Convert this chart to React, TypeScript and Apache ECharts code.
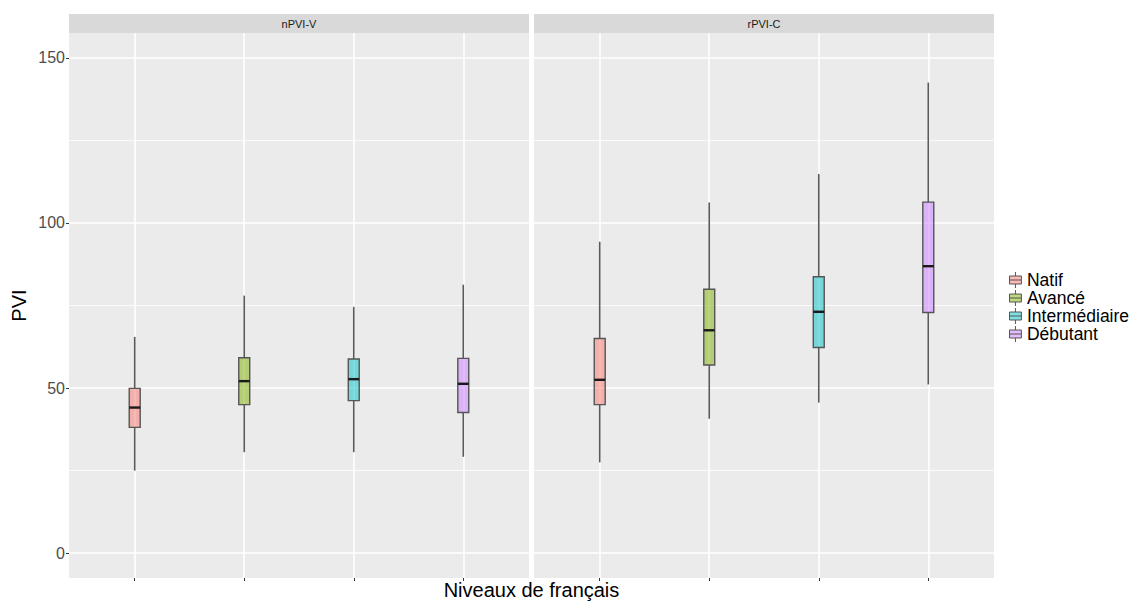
import React, { useEffect, useRef } from "react";
import * as echarts from "echarts";

const levels = ["Natif", "Avancé", "Intermédiaire", "Débutant"];
const facets = ["nPVI-V", "rPVI-C"];
const levelColors = [
  "rgba(248,118,109,0.5)",
  "rgba(124,174,0,0.5)",
  "rgba(0,191,196,0.5)",
  "rgba(199,124,255,0.5)",
];
// each row: [lower whisker, Q1, median, Q3, upper whisker]
const nPVIV = [
  [25.0, 38.1, 44.1, 49.9, 65.5],
  [30.6, 45.0, 52.1, 59.2, 78.0],
  [30.6, 46.2, 52.7, 58.8, 74.6],
  [29.2, 42.6, 51.3, 59.0, 81.3],
];
const rPVIC = [
  [27.5, 45.0, 52.5, 65.0, 94.3],
  [40.7, 57.0, 67.5, 79.9, 106.2],
  [45.6, 62.3, 73.1, 83.7, 114.8],
  [51.1, 72.9, 86.9, 106.3, 142.5],
];
const facetData = [nPVIV, rPVIC];
const yMajorTicks = [0, 50, 100, 150];
const yMinorTicks = [25, 75, 125];
const xTicks = [1, 2, 3, 4];

const Y_MIN = -7.5;
const Y_MAX = 157.5;
const X_MIN = 0.4;
const X_MAX = 4.6;
const BOX_WIDTH = 0.1;
const FONT = "'Liberation Sans', Arial, Helvetica, sans-serif";

const GRID_TOP = 33;
const GRID_H = 545;
const GRID_W = 460;
const GRID_LEFTS = [69, 534];

const LEGEND_ICON =
  "path://M6,0L6,3.5M0.8,3.5L11.2,3.5L11.2,10.5L0.8,10.5ZM0.8,7L11.2,7M6,10.5L6,14";

export default function App() {
  const ref = useRef<HTMLDivElement>(null);
  useEffect(() => {
    if (!ref.current) return;
    const chart = echarts.init(ref.current, undefined, { renderer: "svg" });

    const grids = GRID_LEFTS.map((left) => ({
      left,
      top: GRID_TOP,
      width: GRID_W,
      height: GRID_H,
      show: true,
      backgroundColor: "#EBEBEB",
      borderWidth: 0,
      containLabel: false,
    }));

    const xAxes = GRID_LEFTS.map((_, i) => ({
      type: "value",
      gridIndex: i,
      min: X_MIN,
      max: X_MAX,
      position: "bottom",
      axisLine: { show: false, onZero: false },
      axisTick: {
        show: true,
        customValues: xTicks,
        length: 3,
        lineStyle: { color: "#333333", width: 1 },
      },
      axisLabel: { show: false, customValues: xTicks },
      splitLine: { show: true, lineStyle: { color: "#FFFFFF", width: 1.6 } },
    }));

    const yAxes: any[] = [];
    GRID_LEFTS.forEach((_, i) => {
      yAxes.push({
        type: "value",
        gridIndex: i,
        min: Y_MIN,
        max: Y_MAX,
        name: i === 0 ? "PVI" : "",
        nameLocation: "middle",
        nameGap: 40,
        nameRotate: 90,
        nameTextStyle: { fontSize: 20, color: "#000000", fontFamily: FONT },
        axisLine: { show: false, onZero: false },
        axisTick: {
          show: i === 0,
          customValues: yMajorTicks,
          length: 3,
          lineStyle: { color: "#333333", width: 1 },
        },
        axisLabel: {
          show: i === 0,
          customValues: yMajorTicks,
          margin: 4,
          fontSize: 16,
          color: "#4D4D4D",
          fontFamily: FONT,
        },
        splitLine: { show: true, lineStyle: { color: "#FFFFFF", width: 1.6 } },
      });
      yAxes.push({
        type: "value",
        gridIndex: i,
        min: Y_MIN,
        max: Y_MAX,
        axisLine: { show: false, onZero: false },
        axisTick: { show: false, customValues: yMinorTicks },
        axisLabel: { show: false, customValues: yMinorTicks },
        splitLine: { show: true, lineStyle: { color: "#FFFFFF", width: 0.8 } },
      });
    });

    const renderItem = (params: any, api: any) => {
      const x = api.value(0);
      const lo = api.coord([x, api.value(1)]);
      const q1 = api.coord([x, api.value(2)]);
      const md = api.coord([x, api.value(3)]);
      const q3 = api.coord([x, api.value(4)]);
      const hi = api.coord([x, api.value(5)]);
      const w = api.size([BOX_WIDTH, 0])[0];
      const color = api.visual("color");
      const lineStyle = { stroke: "#5A5A5A", lineWidth: 1.6 };
      return {
        type: "group",
        children: [
          { type: "line", shape: { x1: lo[0], y1: lo[1], x2: q1[0], y2: q1[1] }, style: lineStyle },
          { type: "line", shape: { x1: q3[0], y1: q3[1], x2: hi[0], y2: hi[1] }, style: lineStyle },
          {
            type: "rect",
            shape: { x: q3[0] - w / 2, y: q3[1], width: w, height: q1[1] - q3[1] },
            style: { fill: color, stroke: "#555555", lineWidth: 1.4 },
          },
          {
            type: "line",
            shape: { x1: md[0] - w / 2, y1: md[1], x2: md[0] + w / 2, y2: md[1] },
            style: { stroke: "#1A1A1A", lineWidth: 2.4 },
          },
        ],
      };
    };

    const series: any[] = [];
    facetData.forEach((rows, f) => {
      rows.forEach((stats, l) => {
        series.push({
          type: "custom",
          name: levels[l],
          xAxisIndex: f,
          yAxisIndex: f * 2,
          itemStyle: { color: levelColors[l] },
          encode: { x: 0, y: [1, 2, 3, 4, 5] },
          data: [[xTicks[l], ...stats]],
          renderItem,
        });
      });
    });

    const graphics: any[] = [];
    GRID_LEFTS.forEach((left, i) => {
      graphics.push({
        type: "rect",
        shape: { x: left, y: 14, width: GRID_W, height: GRID_TOP - 14 },
        style: { fill: "#D9D9D9" },
        silent: true,
      });
      graphics.push({
        type: "text",
        x: left + GRID_W / 2,
        y: (14 + GRID_TOP) / 2,
        style: {
          text: facets[i],
          fontSize: 11,
          fill: "#1A1A1A",
          fontFamily: FONT,
          align: "center",
          verticalAlign: "middle",
        },
        silent: true,
      });
    });
    graphics.push({
      type: "text",
      x: (GRID_LEFTS[0] + GRID_LEFTS[1] + GRID_W) / 2,
      y: 590,
      style: {
        text: "Niveaux de français",
        fontSize: 20,
        fill: "#000000",
        fontFamily: FONT,
        align: "center",
        verticalAlign: "middle",
      },
      silent: true,
    });

    chart.setOption({
      animation: false,
      backgroundColor: "#FFFFFF",
      grid: grids,
      xAxis: xAxes,
      yAxis: yAxes,
      legend: {
        orient: "vertical",
        left: 1009,
        top: 271,
        padding: 0,
        itemWidth: 13,
        itemHeight: 16,
        itemGap: 0,
        icon: LEGEND_ICON,
        data: levels,
        itemStyle: { borderColor: "#555555", borderWidth: 1 },
        textStyle: {
          fontSize: 17.5,
          lineHeight: 17.5,
          color: "#000000",
          fontFamily: FONT,
        },
        selectedMode: false,
      },
      graphic: graphics,
      series,
    });

    return () => chart.dispose();
  }, []);

  return (
    <div
      ref={ref}
      style={{ position: "fixed", left: 0, top: 0, width: 1136, height: 601 }}
    />
  );
}
